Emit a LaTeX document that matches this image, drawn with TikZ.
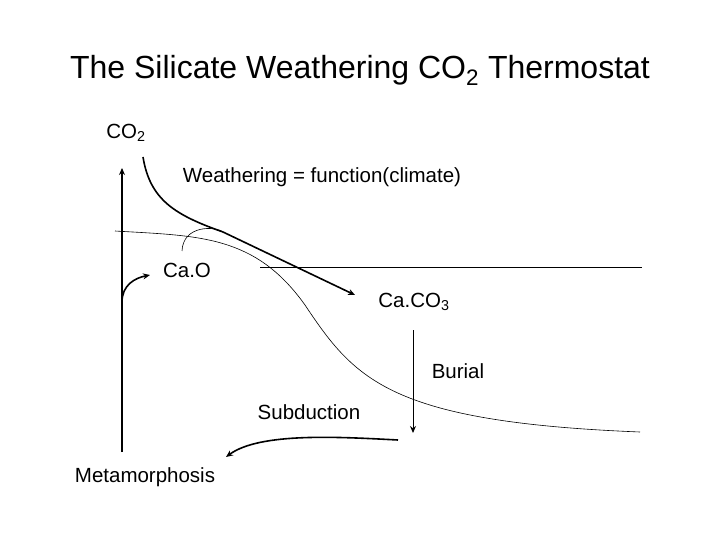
\documentclass[tikz,border=0pt]{standalone}
\usepackage{fontspec}
\setmainfont{Liberation Sans}
\usetikzlibrary{arrows.meta}
\begin{document}
\begin{tikzpicture}[x=1pt,y=-1pt,
  lbl/.style={font=\fontsize{20.5}{24}\selectfont,inner sep=0pt},
  thinln/.style={line width=0.6pt},
  thickln/.style={line width=1.6pt},
  arr/.style={-{Stealth[length=7pt,width=6pt]}}]
\useasboundingbox (0,0) rectangle (720,540);
\node[font=\fontsize{32}{38}\selectfont] (title) at (360,70) {The Silicate Weathering CO\textsubscript{2} Thermostat};
\node[lbl] (co2) at (126,133) {CO\textsubscript{2}};
\node[lbl] (weath) at (322,177) {Weathering = function(climate)};
\node[lbl] (cao) at (187,270) {Ca.O};
\node[lbl] (caco3) at (414,302) {Ca.CO\textsubscript{3}};
\node[lbl] (burial) at (458,371) {Burial};
\node[lbl] (subd) at (309,412) {Subduction};
\node[lbl] (meta) at (145,477) {Metamorphosis};
\coordinate (axb) at (122,452);
\coordinate (axt) at (122,168);
\draw[thickln,arr] (axb) -- (axt);
\coordinate (m0) at (122,302);
\coordinate (m1) at (150,275);
\draw[thickln,arr] (m0) .. controls (122,285) and (135,278) .. (m1);
\coordinate (w0) at (143,157);
\coordinate (w1) at (223,232);
\coordinate (w2) at (355,295);
\draw[thickln] (w0) .. controls (150,200) and (175,215) .. (w1);
\draw[thickln,arr] (w1) -- (w2);
\coordinate (c0) at (115,231);
\coordinate (c1) at (640,432);
\draw[thinln] (c0) .. controls (200,236) and (255,235) .. (305,305)
  .. controls (355,380) and (390,422) .. (c1);
\coordinate (a0) at (182,251);
\draw[thinln] (a0) .. controls (183,225) and (215,226) .. (w1);
\coordinate (h0) at (260,267);
\coordinate (h1) at (642,267);
\draw[thinln] (h0) -- (h1);
\coordinate (b0) at (413,330);
\coordinate (b1) at (413,433);
\draw[line width=1pt,arr] (b0) -- (b1);
\coordinate (s0) at (398,440);
\coordinate (s1) at (226,457);
\draw[thickln,arr] (s0) .. controls (340,437) and (260,432) .. (s1);
\end{tikzpicture}
\end{document}
